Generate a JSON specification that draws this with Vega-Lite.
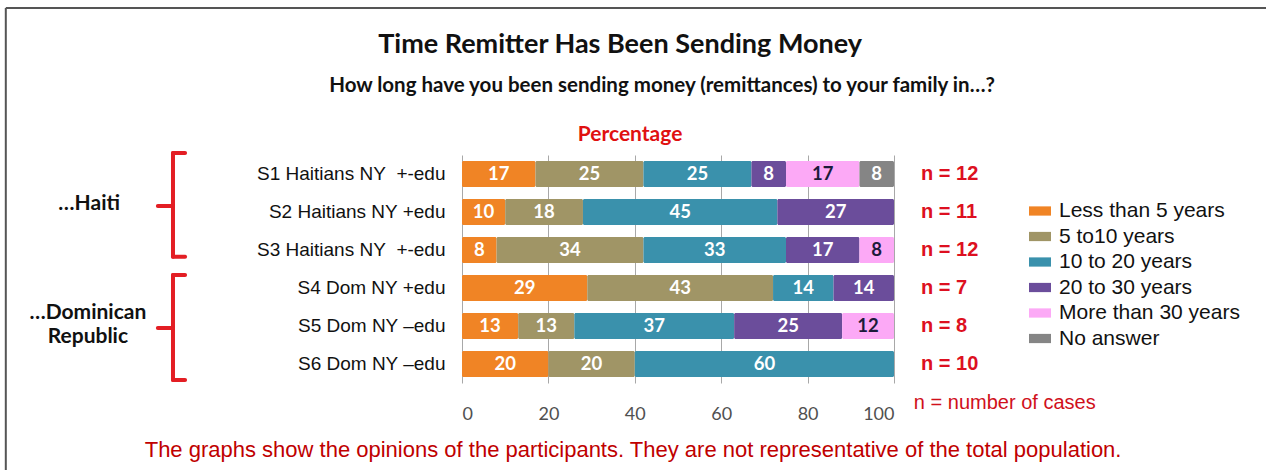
{
  "$schema": "https://vega.github.io/schema/vega-lite/v6.json",
  "width": 432,
  "height": 228,
  "autosize": {"type": "none"},
  "padding": {"left": 462, "top": 155, "right": 372, "bottom": 87},
  "background": "white",
  "config": {"view": {"stroke": null}},
  "layer": [
    {
      "encoding": {
        "y": {
          "field": "group",
          "type": "nominal",
          "sort": null,
          "scale": {"paddingInner": 0.316, "paddingOuter": 0.158},
          "axis": {
            "title": null,
            "domain": false,
            "ticks": false,
            "grid": false,
            "labelFont": "Liberation Sans",
            "labelFontSize": 19,
            "labelColor": "#111111",
            "labelPadding": 17,
            "labelLimit": 300
          }
        }
      },
      "layer": [
        {
          "data": {
            "values": [
              {"group": "S1 Haitians NY\u00a0 +-edu", "category": "Less than 5 years", "rank": 1, "value": 17},
              {"group": "S1 Haitians NY\u00a0 +-edu", "category": "5 to10 years", "rank": 2, "value": 25},
              {"group": "S1 Haitians NY\u00a0 +-edu", "category": "10 to 20 years", "rank": 3, "value": 25},
              {"group": "S1 Haitians NY\u00a0 +-edu", "category": "20 to 30 years", "rank": 4, "value": 8},
              {"group": "S1 Haitians NY\u00a0 +-edu", "category": "More than 30 years", "rank": 5, "value": 17},
              {"group": "S1 Haitians NY\u00a0 +-edu", "category": "No answer", "rank": 6, "value": 8},
              {"group": "S2 Haitians NY +edu", "category": "Less than 5 years", "rank": 1, "value": 10},
              {"group": "S2 Haitians NY +edu", "category": "5 to10 years", "rank": 2, "value": 18},
              {"group": "S2 Haitians NY +edu", "category": "10 to 20 years", "rank": 3, "value": 45},
              {"group": "S2 Haitians NY +edu", "category": "20 to 30 years", "rank": 4, "value": 27},
              {"group": "S3 Haitians NY\u00a0 +-edu", "category": "Less than 5 years", "rank": 1, "value": 8},
              {"group": "S3 Haitians NY\u00a0 +-edu", "category": "5 to10 years", "rank": 2, "value": 34},
              {"group": "S3 Haitians NY\u00a0 +-edu", "category": "10 to 20 years", "rank": 3, "value": 33},
              {"group": "S3 Haitians NY\u00a0 +-edu", "category": "20 to 30 years", "rank": 4, "value": 17},
              {"group": "S3 Haitians NY\u00a0 +-edu", "category": "More than 30 years", "rank": 5, "value": 8},
              {"group": "S4 Dom NY +edu", "category": "Less than 5 years", "rank": 1, "value": 29},
              {"group": "S4 Dom NY +edu", "category": "5 to10 years", "rank": 2, "value": 43},
              {"group": "S4 Dom NY +edu", "category": "10 to 20 years", "rank": 3, "value": 14},
              {"group": "S4 Dom NY +edu", "category": "20 to 30 years", "rank": 4, "value": 14},
              {"group": "S5 Dom NY –edu", "category": "Less than 5 years", "rank": 1, "value": 13},
              {"group": "S5 Dom NY –edu", "category": "5 to10 years", "rank": 2, "value": 13},
              {"group": "S5 Dom NY –edu", "category": "10 to 20 years", "rank": 3, "value": 37},
              {"group": "S5 Dom NY –edu", "category": "20 to 30 years", "rank": 4, "value": 25},
              {"group": "S5 Dom NY –edu", "category": "More than 30 years", "rank": 5, "value": 12},
              {"group": "S6 Dom NY –edu", "category": "Less than 5 years", "rank": 1, "value": 20},
              {"group": "S6 Dom NY –edu", "category": "5 to10 years", "rank": 2, "value": 20},
              {"group": "S6 Dom NY –edu", "category": "10 to 20 years", "rank": 3, "value": 60}
            ]
          },
          "transform": [
            {"stack": "value", "groupby": ["group"], "sort": [{"field": "rank", "order": "ascending"}], "as": ["x0", "x1"]},
            {"calculate": "(datum.x0 + datum.x1) / 2", "as": "mid"}
          ],
          "layer": [
            {
              "mark": {"type": "bar", "cornerRadius": 1.5},
              "encoding": {
                "x": {
                  "field": "x0",
                  "type": "quantitative",
                  "title": null,
                  "scale": {"domain": [0, 100], "nice": false},
                  "axis": {
                    "title": null,
                    "values": [0, 20, 40, 60, 80, 100],
                    "grid": true,
                    "gridColor": "#a8a8a8",
                    "gridWidth": 1,
                    "domain": false,
                    "ticks": false,
                    "labelPadding": 22,
                    "labelFont": "Lato",
                    "labelFontSize": 18,
                    "labelColor": "#505050"
                  }
                },
                "x2": {"field": "x1"},
                "color": {
                  "field": "category",
                  "type": "nominal",
                  "sort": ["Less than 5 years", "5 to10 years", "10 to 20 years", "20 to 30 years", "More than 30 years", "No answer"],
                  "scale": {
                    "domain": ["Less than 5 years", "5 to10 years", "10 to 20 years", "20 to 30 years", "More than 30 years", "No answer"],
                    "range": ["#F08425", "#A09566", "#3A91AC", "#6B4D9B", "#FCA9F6", "#858585"]
                  },
                  "legend": {
                    "title": null,
                    "orient": "none",
                    "legendX": 567,
                    "legendY": 45,
                    "padding": 0,
                    "symbolType": "M-1,-0.42H1V0.42H-1Z",
                    "symbolSize": 484,
                    "symbolStrokeWidth": 0,
                    "symbolOpacity": 1,
                    "labelFont": "Liberation Sans",
                    "labelFontSize": 21,
                    "labelColor": "#111111",
                    "labelOffset": 8,
                    "labelLimit": 400,
                    "rowPadding": 4.5
                  }
                }
              }
            },
            {
              "mark": {"type": "text", "font": "Lato", "fontWeight": "bold", "fontSize": 18.5, "align": "center", "baseline": "middle"},
              "encoding": {
                "x": {"field": "mid", "type": "quantitative", "title": null},
                "text": {"field": "value", "type": "quantitative"},
                "color": {
                  "condition": {"test": "datum.category === 'More than 30 years'", "value": "#1b1b3a"},
                  "value": "#ffffff"
                }
              }
            }
          ]
        },
        {
          "data": {
            "values": [
              {"group": "S1 Haitians NY\u00a0 +-edu", "n": 12},
              {"group": "S2 Haitians NY +edu", "n": 11},
              {"group": "S3 Haitians NY\u00a0 +-edu", "n": 12},
              {"group": "S4 Dom NY +edu", "n": 7},
              {"group": "S5 Dom NY –edu", "n": 8},
              {"group": "S6 Dom NY –edu", "n": 10}
            ]
          },
          "mark": {
            "type": "text",
            "text": {"expr": "'n = ' + datum.n"},
            "font": "Liberation Sans",
            "fontWeight": "bold",
            "fontSize": 20,
            "color": "#DD1020",
            "align": "left",
            "baseline": "middle",
            "dx": 27
          },
          "encoding": {
            "x": {"datum": 100, "type": "quantitative", "title": null}
          }
        }
      ]
    },
    {
      "layer": [
        {
          "data": {
            "values": [
              {"x": -66.9, "x2": -66.9, "y": 0.45, "y2": 3.18},
              {"x": -66.9, "x2": -64.1, "y": 0.45, "y2": 0.45},
              {"x": -66.9, "x2": -64.1, "y": 3.18, "y2": 3.18},
              {"x": -70.4, "x2": -66.9, "y": 1.84, "y2": 1.84},
              {"x": -66.9, "x2": -66.9, "y": 3.66, "y2": 6.42},
              {"x": -66.9, "x2": -64.1, "y": 3.66, "y2": 3.66},
              {"x": -66.9, "x2": -64.1, "y": 6.42, "y2": 6.42},
              {"x": -70.4, "x2": -66.9, "y": 5.05, "y2": 5.05}
            ]
          },
          "mark": {"type": "rule", "color": "#E31E24", "strokeWidth": 4, "strokeCap": "round"},
          "encoding": {
            "x": {"field": "x", "type": "quantitative", "title": null, "scale": {"domain": [0, 100], "nice": false}},
            "x2": {"field": "x2"},
            "y": {"field": "y", "type": "quantitative", "title": null, "scale": {"domain": [0.5, 6.5], "reverse": true, "nice": false, "zero": false}, "axis": null},
            "y2": {"field": "y2"}
          }
        },
        {
          "data": {
            "values": [
              {"x": -105.6, "x2": -105.6, "y": -3.37, "y2": 9.5},
              {"x": -105.6, "x2": 190, "y": -3.37, "y2": -3.37}
            ]
          },
          "mark": {"type": "rule", "color": "#555555", "strokeWidth": 2},
          "encoding": {
            "x": {"field": "x", "type": "quantitative", "title": null},
            "x2": {"field": "x2"},
            "y": {"field": "y", "type": "quantitative", "title": null},
            "y2": {"field": "y2"}
          }
        },
        {
          "data": {"values": [{"label": "Time Remitter Has Been Sending Money", "x": 36.6, "y": -2.39}]},
          "mark": {"type": "text", "font": "Lato", "fontWeight": "bold", "fontSize": 27, "color": "#111111", "align": "center", "baseline": "middle"},
          "encoding": {
            "x": {"field": "x", "type": "quantitative", "title": null},
            "y": {"field": "y", "type": "quantitative", "title": null},
            "text": {"field": "label"}
          }
        },
        {
          "data": {"values": [{"label": "How long have you been sending money (remittances) to your family in…?", "x": 46.3, "y": -1.32}]},
          "mark": {"type": "text", "font": "Lato", "fontWeight": "bold", "fontSize": 20.5, "color": "#111111", "align": "center", "baseline": "middle"},
          "encoding": {
            "x": {"field": "x", "type": "quantitative", "title": null},
            "y": {"field": "y", "type": "quantitative", "title": null},
            "text": {"field": "label"}
          }
        },
        {
          "data": {
            "values": [
              {"label": "…Haiti", "x": -86.3, "y": 1.79},
              {"label": "…Dominican", "x": -86.6, "y": 4.66},
              {"label": "Republic", "x": -86.6, "y": 5.29}
            ]
          },
          "mark": {"type": "text", "font": "Lato", "fontWeight": "bold", "fontSize": 21, "color": "#111111", "align": "center", "baseline": "middle"},
          "encoding": {
            "x": {"field": "x", "type": "quantitative", "title": null},
            "y": {"field": "y", "type": "quantitative", "title": null},
            "text": {"field": "label"}
          }
        },
        {
          "data": {"values": [{"label": "Percentage", "x": 38.9, "y": -0.03}]},
          "mark": {"type": "text", "font": "Lato", "fontWeight": "bold", "fontSize": 21, "color": "#E01010", "align": "center", "baseline": "middle"},
          "encoding": {
            "x": {"field": "x", "type": "quantitative", "title": null},
            "y": {"field": "y", "type": "quantitative", "title": null},
            "text": {"field": "label"}
          }
        },
        {
          "data": {"values": [{"label": "n = number of cases", "x": 104.6, "y": 7.03}]},
          "mark": {"type": "text", "font": "Liberation Sans", "fontSize": 20, "color": "#D0101B", "align": "left", "baseline": "middle"},
          "encoding": {
            "x": {"field": "x", "type": "quantitative", "title": null},
            "y": {"field": "y", "type": "quantitative", "title": null},
            "text": {"field": "label"}
          }
        },
        {
          "data": {"values": [{"label": "The graphs show the opinions of the participants. They are not representative of the total population.", "x": 39.6, "y": 8.26}]},
          "mark": {"type": "text", "font": "Liberation Sans", "fontSize": 22, "color": "#C00000", "align": "center", "baseline": "middle"},
          "encoding": {
            "x": {"field": "x", "type": "quantitative", "title": null},
            "y": {"field": "y", "type": "quantitative", "title": null},
            "text": {"field": "label"}
          }
        }
      ]
    }
  ],
  "resolve": {"scale": {"y": "independent"}}
}
